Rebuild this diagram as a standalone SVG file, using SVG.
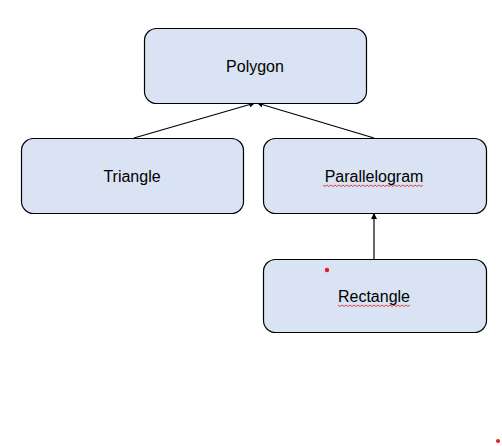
<svg xmlns="http://www.w3.org/2000/svg" width="502" height="446" viewBox="0 0 502 446">
<style>
.box{fill:#dae3f3;stroke:#000;stroke-width:1.2}
.lbl{font-family:"Liberation Sans",Arial,sans-serif;font-size:16px;fill:#000;text-anchor:middle;dominant-baseline:central}
.conn{stroke:#000;stroke-width:1.2;fill:none;marker-end:url(#ah)}
.sq{stroke:#e02020;stroke-width:0.8;fill:none}
</style>
<defs>
<marker id="ah" viewBox="0 0 10 10" refX="10" refY="5" markerWidth="6" markerHeight="6" markerUnits="userSpaceOnUse" orient="auto">
<path d="M0,0 L10,5 L0,10 z" fill="#000"/>
</marker>
</defs>
<rect width="502" height="446" fill="#fff"/>
<g id="connectors">
<line class="conn" x1="134" y1="138" x2="255" y2="103"/>
<line class="conn" x1="374" y1="138" x2="257" y2="103"/>
<line class="conn" x1="374" y1="259" x2="374" y2="213"/>
</g>
<g id="polygon">
<rect class="box" x="144.5" y="28.5" width="222" height="75" rx="12"/>
<text class="lbl" x="255" y="66">Polygon</text>
</g>
<g id="triangle">
<rect class="box" x="21.5" y="138.5" width="222" height="75" rx="12"/>
<text class="lbl" x="132" y="176">Triangle</text>
</g>
<g id="parallelogram">
<rect class="box" x="263.5" y="138.5" width="223" height="75" rx="12"/>
<text class="lbl" x="374" y="176">Parallelogram</text>
<path class="sq" d="M323,185 l2,1.5 l2,-1.5 l2,1.5 l2,-1.5 l2,1.5 l2,-1.5 l2,1.5 l2,-1.5 l2,1.5 l2,-1.5 l2,1.5 l2,-1.5 l2,1.5 l2,-1.5 l2,1.5 l2,-1.5 l2,1.5 l2,-1.5 l2,1.5 l2,-1.5 l2,1.5 l2,-1.5 l2,1.5 l2,-1.5 l2,1.5 l2,-1.5 l2,1.5 l2,-1.5 l2,1.5 l2,-1.5 l2,1.5 l2,-1.5 l2,1.5 l2,-1.5 l2,1.5 l2,-1.5 l2,1.5 l2,-1.5 l2,1.5 l2,-1.5 l2,1.5 l2,-1.5 l2,1.5 l2,-1.5 l2,1.5 l2,-1.5 l2,1.5 l2,-1.5 l2,1.5 l2,-1.5"/>
</g>
<g id="rectangle">
<rect class="box" x="263.5" y="259.5" width="223" height="73" rx="12"/>
<text class="lbl" x="374" y="296">Rectangle</text>
<path class="sq" d="M338,305 l2,1.5 l2,-1.5 l2,1.5 l2,-1.5 l2,1.5 l2,-1.5 l2,1.5 l2,-1.5 l2,1.5 l2,-1.5 l2,1.5 l2,-1.5 l2,1.5 l2,-1.5 l2,1.5 l2,-1.5 l2,1.5 l2,-1.5 l2,1.5 l2,-1.5 l2,1.5 l2,-1.5 l2,1.5 l2,-1.5 l2,1.5 l2,-1.5 l2,1.5 l2,-1.5 l2,1.5 l2,-1.5 l2,1.5 l2,-1.5 l2,1.5 l2,-1.5 l2,1.5 l2,-1.5"/>
<circle cx="327" cy="270" r="2.2" fill="#e02020"/>
</g>
<circle cx="498" cy="441" r="2" fill="#e02020"/>
</svg>
